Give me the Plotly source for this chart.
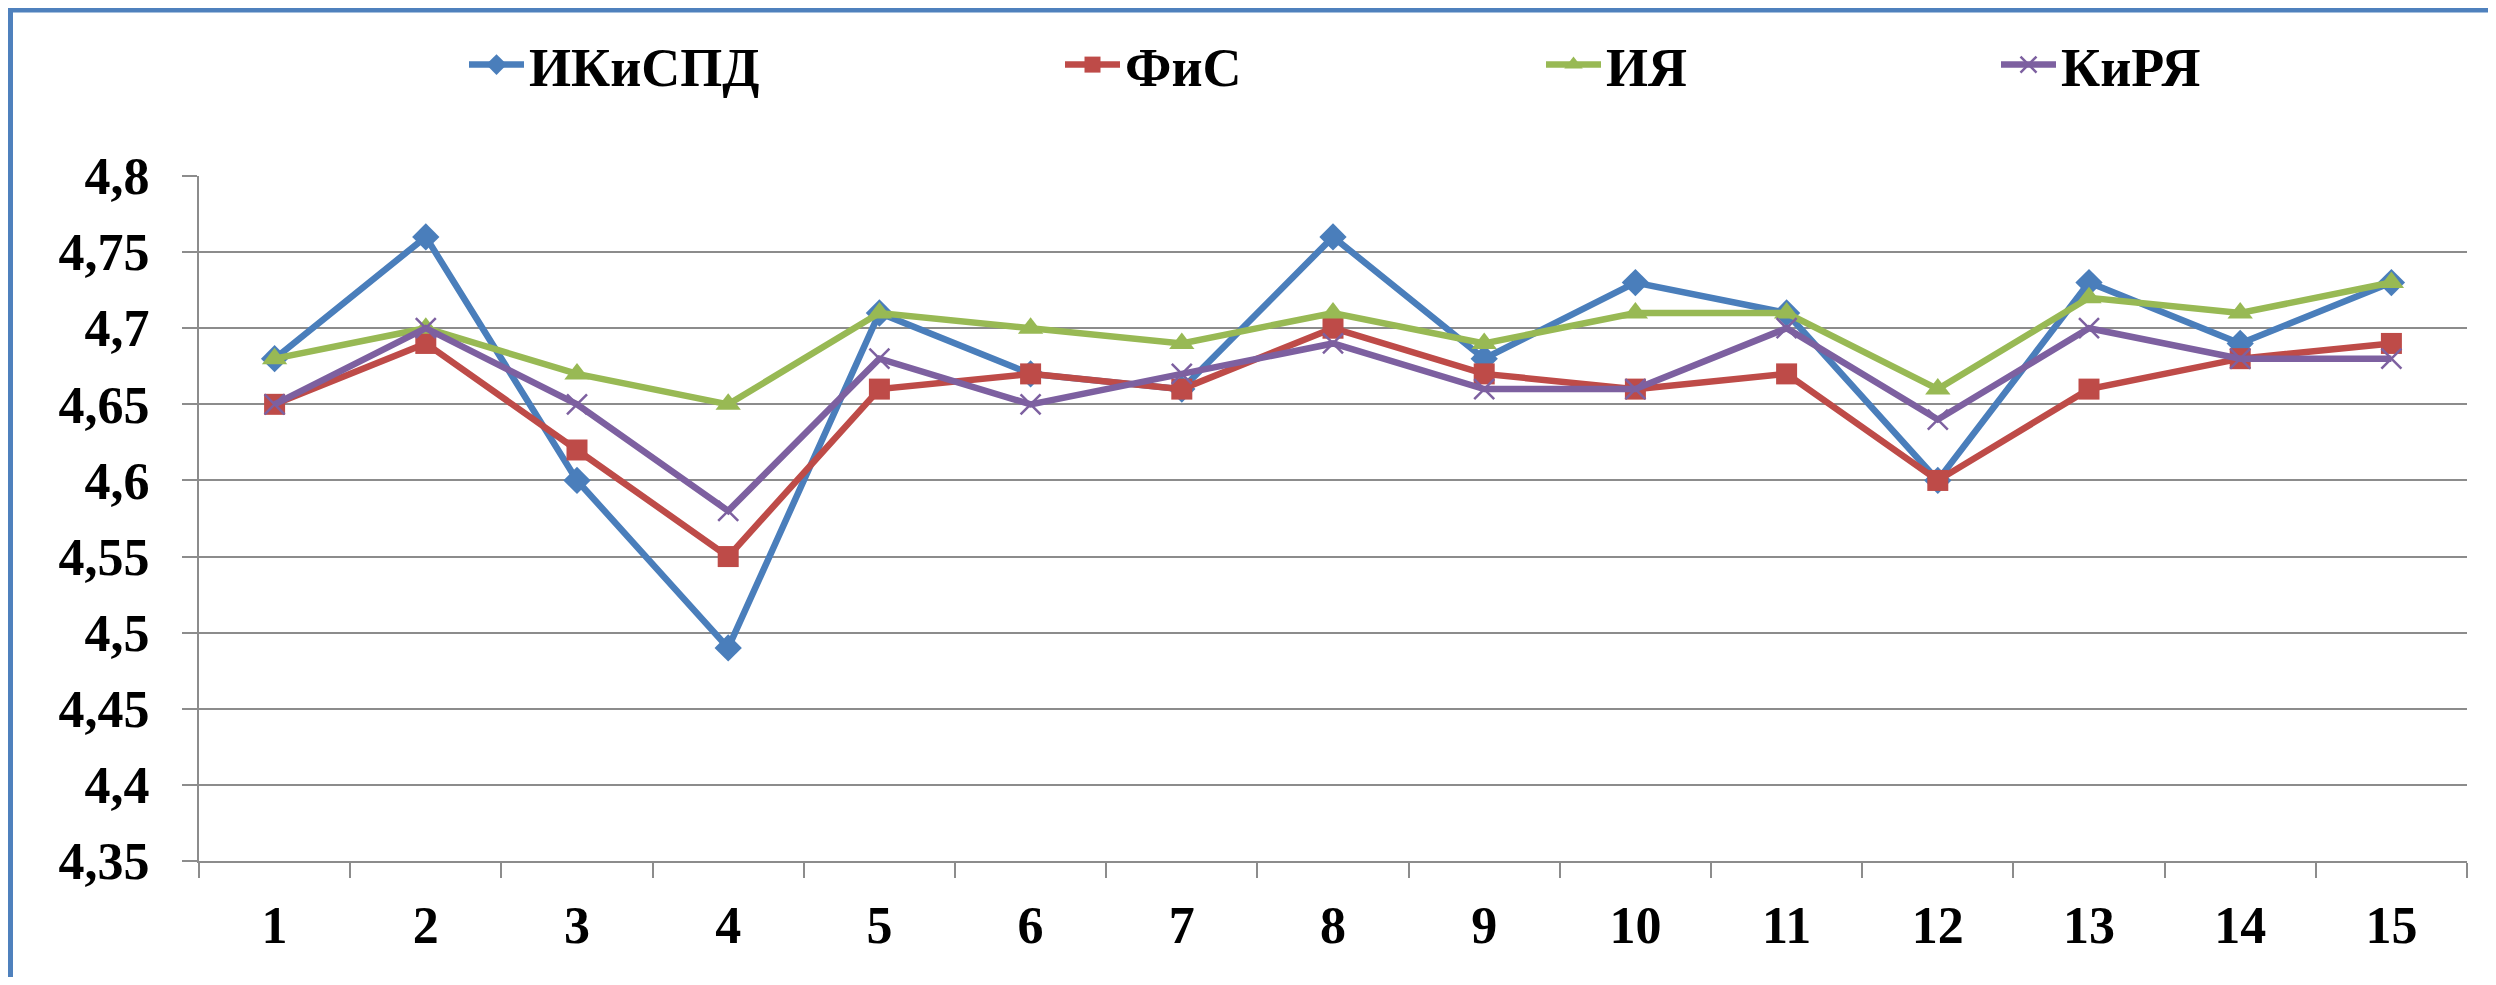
import plotly.graph_objects as go

categories = [str(i) for i in range(1, 16)]
series_names = ["ИКиСПД", "ФиС", "ИЯ", "КиРЯ"]
ikispd = [4.68, 4.76, 4.60, 4.49, 4.71, 4.67, 4.66, 4.76, 4.68, 4.73, 4.71, 4.60, 4.73, 4.69, 4.73]
fis = [4.65, 4.69, 4.62, 4.55, 4.66, 4.67, 4.66, 4.70, 4.67, 4.66, 4.67, 4.60, 4.66, 4.68, 4.69]
iya = [4.68, 4.70, 4.67, 4.65, 4.71, 4.70, 4.69, 4.71, 4.69, 4.71, 4.71, 4.66, 4.72, 4.71, 4.73]
kirya = [4.65, 4.70, 4.65, 4.58, 4.68, 4.65, 4.67, 4.69, 4.66, 4.66, 4.70, 4.64, 4.70, 4.68, 4.68]
y_tickvals = [4.35, 4.4, 4.45, 4.5, 4.55, 4.6, 4.65, 4.7, 4.75, 4.8]
y_ticktext = ["4,35", "4,4", "4,45", "4,5", "4,55", "4,6", "4,65", "4,7", "4,75", "4,8"]

# page body has an 8px default margin; figure coordinates are screen - 8
OFF = 8
W, H = 2496 - 2 * OFF, 985 - 2 * OFF
PL, PR, PT, PB = 199 - OFF, 2467 - OFF, 176 - OFF, 861 - OFF

colors = ["#4A7EBB", "#BE4B48", "#98B954", "#7D60A0"]
symbols = ["diamond", "square", "triangle-up", "x-thin"]
sizes = [21, 21, 22, 20]
values = [ikispd, fis, iya, kirya]
legend_ids = ["legend", "legend2", "legend3", "legend4"]
legend_marker_px = [501, 1097, 1578, 2033]

FONT = "Liberation Serif, Times New Roman, serif"

fig = go.Figure()
for name, vals, c, sym, sz, lid in zip(series_names, values, colors, symbols, sizes, legend_ids):
    marker = dict(symbol=sym, size=sz, color=c)
    if sym == "x-thin":
        marker["line"] = dict(color=c, width=2.5)
    fig.add_trace(go.Scatter(
        x=categories, y=vals, name=name, mode="lines+markers",
        line=dict(color=c, width=6.5), marker=marker, legend=lid,
    ))

legend_common = dict(
    orientation="h", xref="container", yref="container",
    xanchor="left", yanchor="middle", y=1 - (65 - OFF) / H,
    font=dict(family=FONT, size=54, color="black", weight="bold"),
    bgcolor="rgba(0,0,0,0)", itemwidth=55,
)
layout_legends = {}
for lid, mx in zip(legend_ids, legend_marker_px):
    d = dict(legend_common)
    d["x"] = (mx - 45) / W
    layout_legends[lid] = d


def px_x(p):
    return (p - OFF - PL) / (PR - PL)


def px_y(p):
    return (PB - (p - OFF)) / (PB - PT)


shapes = [
    dict(type="line", xref="paper", yref="paper", x0=px_x(12), x1=px_x(2496), y0=px_y(10), y1=px_y(10),
         line=dict(color="#4F81BD", width=5)),
    dict(type="line", xref="paper", yref="paper", x0=px_x(10), x1=px_x(10), y0=px_y(8), y1=px_y(985),
         line=dict(color="#4F81BD", width=6)),
]

fig.update_layout(
    width=W, height=H,
    margin=dict(l=PL, r=W - PR, t=PT, b=H - PB, autoexpand=False),
    paper_bgcolor="white", plot_bgcolor="white",
    showlegend=True,
    shapes=shapes,
    font=dict(family=FONT, size=52, color="black", weight="bold"),
    **layout_legends,
)
fig.update_xaxes(
    type="category", range=[-0.5, 14.5], tickson="boundaries", ticks="outside", ticklen=15, tickwidth=2,
    tickcolor="#8C8C8C", showline=True, linecolor="#8C8C8C", linewidth=2,
    showgrid=False, zeroline=False, ticklabelstandoff=18,
    tickfont=dict(family=FONT, size=52, color="black", weight="bold"),
)
fig.update_yaxes(
    range=[4.35, 4.8], tickvals=y_tickvals, ticktext=y_ticktext,
    ticks="outside", ticklen=15, tickwidth=2, tickcolor="#8C8C8C",
    showline=True, linecolor="#8C8C8C", linewidth=2,
    showgrid=True, gridcolor="#8C8C8C", gridwidth=2, zeroline=False,
    ticklabelstandoff=22,
    tickfont=dict(family=FONT, size=52, color="black", weight="bold"),
)

fig.write_html("out.html")
